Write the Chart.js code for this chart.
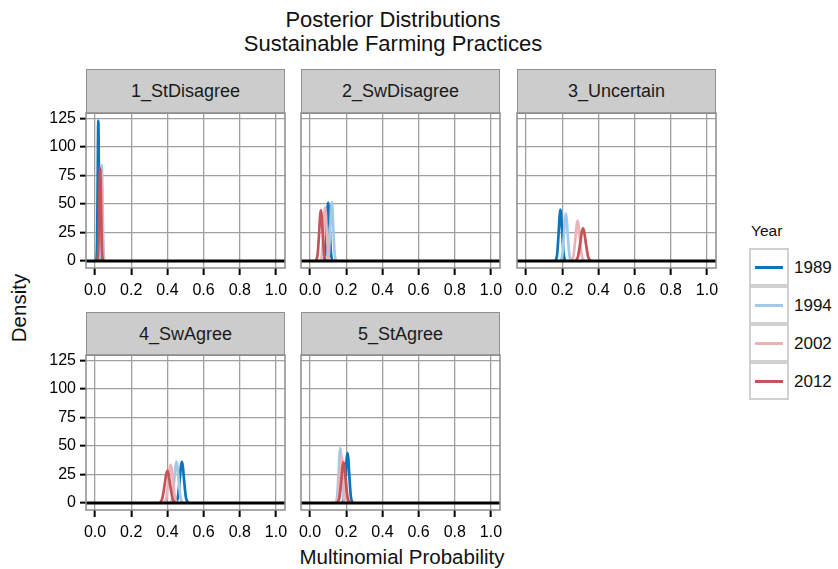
<!DOCTYPE html>
<html>
<head>
<meta charset="utf-8">
<script src="https://cdn.jsdelivr.net/npm/chart.js@4.4.1/dist/chart.umd.min.js"></script>
<style>
body { margin: 0; background: #fff; font-family: "Liberation Sans", Arial, sans-serif; color: #111; }
#wrap { position: relative; width: 838px; height: 569px; overflow: hidden; }
.abs { position: absolute; white-space: nowrap; }
.strip { position: absolute; background: #cccccc; border: 1.5px solid #8f8f8f; box-sizing: border-box;
  display: flex; align-items: center; justify-content: center; font-size: 18px; color: #1a1a1a; }
.key { position: absolute; width: 40px; height: 38px; border: 2px solid #d0d0d0; box-sizing: border-box; background: #fff; }
.key span { position: absolute; left: 4px; top: 16px; width: 28px; height: 3px; }
</style>
</head>
<body>
<div id="wrap">
  <div class="abs" style="left:93px;top:8px;width:600px;text-align:center;font-size:22px;line-height:24px;">Posterior Distributions<br>Sustainable Farming Practices</div>
  <div class="abs" style="left:19px;top:308px;font-size:20.5px;transform:translate(-50%,-50%) rotate(-90deg);">Density</div>
  <div class="abs" style="left:402px;top:557px;font-size:20.5px;transform:translate(-50%,-50%);">Multinomial Probability</div>
  <div class="abs" style="left:751px;top:222px;font-size:15.5px;">Year</div>
  <div id="legend"></div>
</div>
<script>
// years and colours
const years = ['1989', '1994', '2002', '2012'];
const yearColors = ['#0a75bc', '#a4c8e8', '#ecb2b5', '#c4545a'];

const categories = ['1_StDisagree', '2_SwDisagree', '3_Uncertain', '4_SwAgree', '5_StAgree'];
const xTicks = [0, 0.2, 0.4, 0.6, 0.8, 1.0];
const yTicks = [0, 25, 50, 75, 100, 125];

// density curves, one list of [prob, density] per year
const stDisagree = [
  [[0.008,0],[0.0115,16.6],[0.0148,74.7],[0.0164,108.5],[0.018,123],[0.0196,108.5],[0.0212,74.7],[0.0245,16.6],[0.028,0]],
  [[0.0228,0],[0.0275,11.3],[0.0323,51],[0.0346,74.1],[0.037,84],[0.0394,74.1],[0.0418,51],[0.0465,11.3],[0.0513,0]],
  [[0.0187,0],[0.0238,10.5],[0.0289,47.3],[0.0314,68.8],[0.034,78],[0.0366,68.8],[0.0391,47.3],[0.0442,10.5],[0.0493,0]],
  [[0.0132,0],[0.0182,10.9],[0.0231,49.2],[0.0255,71.4],[0.028,81],[0.0305,71.4],[0.0329,49.2],[0.0379,10.9],[0.0428,0]]
];
const swDisagree = [
  [[0.0765,0],[0.0844,6.9],[0.0922,31],[0.0961,45],[0.1,51],[0.1039,45],[0.1078,31],[0.1156,6.9],[0.1235,0]],
  [[0.0968,0],[0.1045,7],[0.1123,31.3],[0.1161,45.4],[0.12,51.5],[0.1239,45.4],[0.1278,31.3],[0.1355,7],[0.1433,0]],
  [[0.0575,0],[0.066,6.3],[0.0745,28.5],[0.0788,41.5],[0.083,47],[0.0872,41.5],[0.0915,28.5],[0.1,6.3],[0.1085,0]],
  [[0.0331,0],[0.0421,6],[0.051,27],[0.0555,39.2],[0.06,44.5],[0.0645,39.2],[0.069,27],[0.0779,6],[0.0869,0]]
];
const uncertain = [
  [[0.1634,0],[0.1723,6.1],[0.1811,27.3],[0.1856,39.7],[0.19,45],[0.1944,39.7],[0.1989,27.3],[0.2077,6.1],[0.2166,0]],
  [[0.1912,0],[0.2008,5.6],[0.2104,25.2],[0.2152,36.6],[0.22,41.5],[0.2248,36.6],[0.2296,25.2],[0.2392,5.6],[0.2488,0]],
  [[0.2508,0],[0.2622,4.7],[0.2736,21.2],[0.2793,30.9],[0.285,35],[0.2907,30.9],[0.2964,21.2],[0.3078,4.7],[0.3192,0]],
  [[0.273,0],[0.287,3.8],[0.301,17.3],[0.308,25.1],[0.315,28.5],[0.322,25.1],[0.329,17.3],[0.343,3.8],[0.357,0]]
];
const swAgree = [
  [[0.4468,0],[0.4578,4.9],[0.4689,21.9],[0.4745,31.8],[0.48,36],[0.4855,31.8],[0.4911,21.9],[0.5022,4.9],[0.5132,0]],
  [[0.4168,0],[0.4278,4.9],[0.4389,21.9],[0.4445,31.8],[0.45,36],[0.4555,31.8],[0.4611,21.9],[0.4722,4.9],[0.4832,0]],
  [[0.3822,0],[0.3941,4.5],[0.4061,20.3],[0.412,29.5],[0.418,33.4],[0.424,29.5],[0.4299,20.3],[0.4419,4.5],[0.4538,0]],
  [[0.3573,0],[0.3715,3.8],[0.3858,17],[0.3929,24.7],[0.4,28],[0.4071,24.7],[0.4143,17],[0.4285,3.8],[0.4428,0]]
];
const stAgree = [
  [[0.1796,0],[0.1887,5.9],[0.1979,26.5],[0.2024,38.5],[0.207,43.6],[0.2116,38.5],[0.2162,26.5],[0.2253,5.9],[0.2345,0]],
  [[0.1421,0],[0.1504,6.5],[0.1587,29.1],[0.1628,42.3],[0.167,48],[0.1712,42.3],[0.1753,29.1],[0.1836,6.5],[0.1919,0]],
  [[0.1452,0],[0.1548,5.6],[0.1644,25.2],[0.1692,36.6],[0.174,41.5],[0.1788,36.6],[0.1836,25.2],[0.1932,5.6],[0.2028,0]],
  [[0.1513,0],[0.1625,4.8],[0.1738,21.5],[0.1794,31.3],[0.185,35.5],[0.1906,31.3],[0.1962,21.5],[0.2075,4.8],[0.2187,0]]
];
const panelData = [stDisagree, swDisagree, uncertain, swAgree, stAgree];

// facet layout
const colX = [86, 301, 517];
const rowStrip = [69, 312];
const rowPlot = [113, 355];
const plotW = 199, plotH = 155;
const padL = 10, padR = 20, padT = 20, xH = 36;

const wrap = document.getElementById('wrap');

// panel border drawn over everything, like ggplot
const borderPlugin = {
  id: 'panelBorder',
  afterDraw(chart) {
    const a = chart.chartArea, ctx = chart.ctx;
    ctx.save();
    ctx.strokeStyle = '#8c8c8c';
    ctx.lineWidth = 1.5;
    ctx.strokeRect(a.left, a.top, a.right - a.left, a.bottom - a.top);
    ctx.restore();
  }
};

categories.forEach((cat, i) => {
  let col = i % 3, row = Math.floor(i / 3);
  let yW = col === 0 ? 45 : 0;

  let strip = document.createElement('div');
  strip.className = 'strip';
  strip.style.left = colX[col] + 'px';
  strip.style.top = rowStrip[row] + 'px';
  strip.style.width = plotW + 'px';
  strip.style.height = (rowPlot[row] - rowStrip[row] + 1) + 'px';
  strip.textContent = cat;
  wrap.appendChild(strip);

  let canvas = document.createElement('canvas');
  let w = padL + yW + plotW + padR, h = padT + plotH + xH;
  canvas.width = w; canvas.height = h;
  canvas.className = 'abs';
  canvas.style.left = (colX[col] - yW - padL) + 'px';
  canvas.style.top = (rowPlot[row] - padT) + 'px';
  canvas.style.width = w + 'px'; canvas.style.height = h + 'px';
  wrap.appendChild(canvas);

  let datasets = panelData[i].map((pts, k) => ({
    label: years[k],
    data: pts.map(p => ({x: p[0], y: p[1]})),
    borderColor: yearColors[k],
    borderWidth: 2.7,
    pointRadius: 0,
    showLine: true,
    cubicInterpolationMode: 'monotone',
    order: 10 - k
  }));
  // zero line across the panel
  datasets.push({
    label: 'zero',
    data: [{x: -0.05, y: 0}, {x: 1.05, y: 0}],
    borderColor: '#000',
    borderWidth: 3,
    pointRadius: 0,
    showLine: true,
    order: 0
  });

  new Chart(canvas.getContext('2d'), {
    type: 'scatter',
    data: {datasets},
    plugins: [borderPlugin],
    options: {
      responsive: false,
      animation: false,
      devicePixelRatio: 1,
      layout: {padding: {left: padL, right: padR, top: padT, bottom: 0}},
      plugins: {legend: {display: false}, tooltip: {enabled: false}},
      scales: {
        x: {
          type: 'linear', min: -0.05, max: 1.05,
          afterBuildTicks: ax => { ax.ticks = xTicks.map(v => ({value: v})); },
          afterFit: ax => { ax.height = xH; },
          border: {display: false},
          grid: {color: '#a0a0a0', lineWidth: 1.3, tickColor: '#000', tickWidth: 2, tickLength: 7},
          ticks: {padding: 6, color: '#000', font: {family: 'Liberation Sans', size: 16},
                  maxRotation: 0, callback: v => v.toFixed(1)}
        },
        y: {
          type: 'linear', min: -6.2, max: 129.6,
          afterBuildTicks: ax => { ax.ticks = yTicks.map(v => ({value: v})); },
          afterFit: ax => { ax.width = yW; },
          border: {display: false},
          grid: {color: '#a0a0a0', lineWidth: 1.3, tickColor: '#000', tickWidth: 2, tickLength: 6,
                 drawTicks: col === 0},
          ticks: {display: col === 0, padding: 4, color: '#000', font: {family: 'Liberation Sans', size: 16}}
        }
      }
    }
  });
});

// legend keys
let legend = document.getElementById('legend');
years.forEach((yr, k) => {
  let key = document.createElement('div');
  key.className = 'key';
  key.style.left = '749px';
  key.style.top = (248 + k * 38) + 'px';
  let sw = document.createElement('span');
  sw.style.background = yearColors[k];
  key.appendChild(sw);
  legend.appendChild(key);
  let lab = document.createElement('div');
  lab.className = 'abs';
  lab.style.left = '794px';
  lab.style.top = (248 + k * 38 + 10) + 'px';
  lab.style.fontSize = '17px';
  lab.textContent = yr;
  legend.appendChild(lab);
});
</script>
</body>
</html>
